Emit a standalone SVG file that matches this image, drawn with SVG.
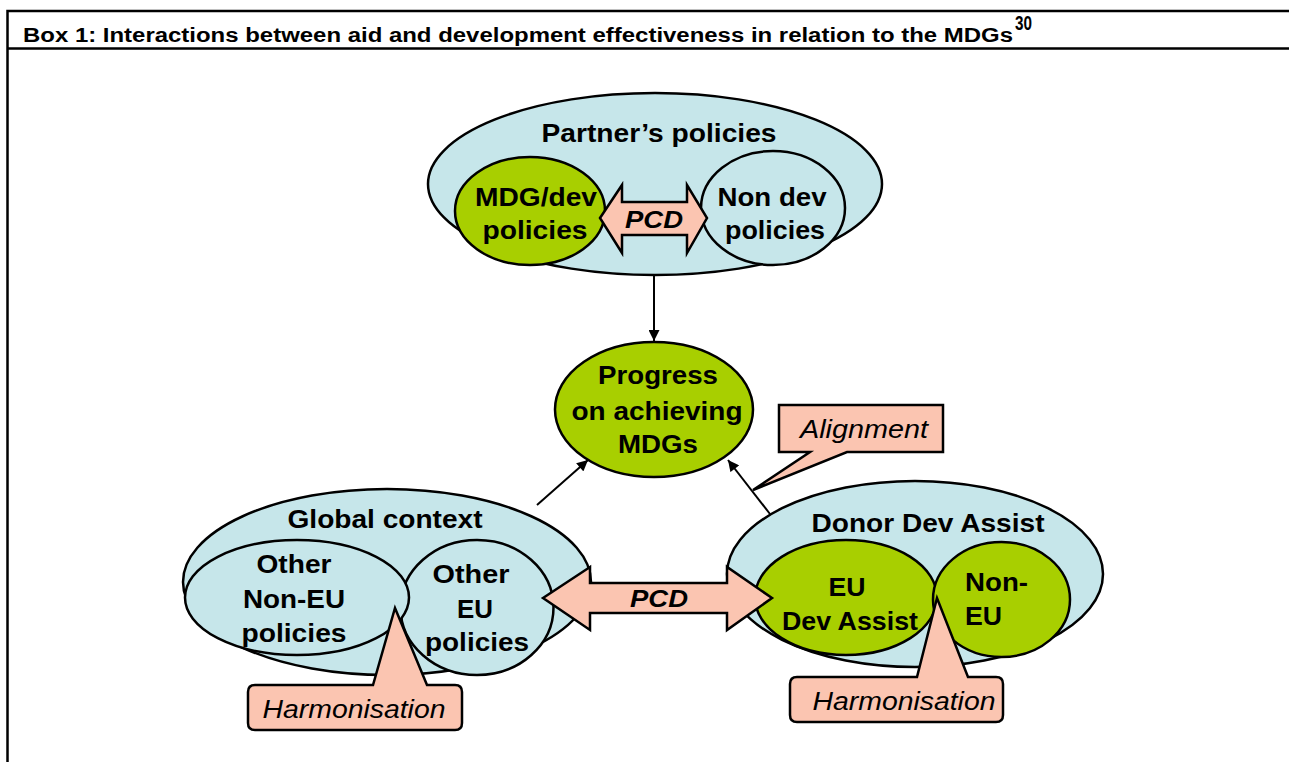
<svg xmlns="http://www.w3.org/2000/svg" width="1289" height="762" viewBox="0 0 1289 762">
<defs>
<style>
.frame{stroke:#000;stroke-width:2.5;fill:none}
.blue{fill:#C6E6EA;stroke:#000;stroke-width:2.5}
.green{fill:#A8CF00;stroke:#000;stroke-width:2.5}
.salmon{fill:#FBC5B1;stroke:#000;stroke-width:2.5;stroke-linejoin:miter}
.lbl{font-family:"Liberation Sans",Arial,sans-serif;font-weight:bold;font-size:25px;fill:#000;text-anchor:middle}
.ital{font-family:"Liberation Sans",Arial,sans-serif;font-style:italic;font-size:25px;fill:#000;text-anchor:middle}
.pcd{font-family:"Liberation Sans",Arial,sans-serif;font-style:italic;font-weight:bold;font-size:23px;fill:#000;text-anchor:middle}
.title{font-family:"Liberation Sans",Arial,sans-serif;font-weight:bold;font-size:20px;fill:#000}
.conn{stroke:#000;stroke-width:2;fill:none}
</style>
<marker id="ah" viewBox="0 0 10 10" refX="10" refY="5" markerWidth="12" markerHeight="11" markerUnits="userSpaceOnUse" orient="auto">
<path d="M0,0 L10,5 L0,10 Z" fill="#000"/>
</marker>
</defs>
<rect width="1289" height="762" fill="#fff"/>
<g id="frame">
<path class="frame" d="M7.5,762 V11 H1289 M7.5,48.5 H1289"/>
<text class="title" x="23" y="42" textLength="990" lengthAdjust="spacingAndGlyphs">Box 1: Interactions between aid and development effectiveness in relation to the MDGs</text>
<text class="title" x="1015" y="30" font-size="13" textLength="17" lengthAdjust="spacingAndGlyphs">30</text>
</g>
<g id="partners-policies">
<ellipse class="blue" cx="655" cy="184" rx="227" ry="91"/>
<text class="lbl" x="659" y="142" textLength="235" lengthAdjust="spacingAndGlyphs">Partner’s policies</text>
</g>
<g id="mdg-dev-policies">
<ellipse class="green" cx="530" cy="211" rx="75" ry="54"/>
<text class="lbl" x="536" y="206" textLength="122" lengthAdjust="spacingAndGlyphs">MDG/dev</text>
<text class="lbl" x="535" y="239" textLength="105" lengthAdjust="spacingAndGlyphs">policies</text>
</g>
<g id="non-dev-policies">
<ellipse class="blue" cx="773" cy="208" rx="72" ry="57"/>
<text class="lbl" x="772" y="206" textLength="109" lengthAdjust="spacingAndGlyphs">Non dev</text>
<text class="lbl" x="775" y="239" textLength="100" lengthAdjust="spacingAndGlyphs">policies</text>
</g>
<g id="pcd-top">
<polygon class="salmon" points="600,218 622,185 622,202 687,202 687,185 707,218 687,253 687,235 622,235 622,253"/>
<text class="pcd" x="654" y="228" textLength="58" lengthAdjust="spacingAndGlyphs">PCD</text>
</g>
<g id="global-context">
<ellipse class="blue" cx="387" cy="582" rx="204" ry="93"/>
<text class="lbl" x="385" y="528" textLength="195" lengthAdjust="spacingAndGlyphs">Global context</text>
</g>
<g id="other-eu-policies">
<ellipse class="blue" cx="477" cy="607.5" rx="76.5" ry="67.5"/>
<text class="lbl" x="471" y="583" textLength="77" lengthAdjust="spacingAndGlyphs">Other</text>
<text class="lbl" x="475" y="618" textLength="36" lengthAdjust="spacingAndGlyphs">EU</text>
<text class="lbl" x="477" y="651" textLength="104" lengthAdjust="spacingAndGlyphs">policies</text>
</g>
<g id="other-non-eu-policies">
<ellipse class="blue" cx="297" cy="597.5" rx="112" ry="57.5"/>
<text class="lbl" x="294" y="573" textLength="75" lengthAdjust="spacingAndGlyphs">Other</text>
<text class="lbl" x="294" y="608" textLength="102" lengthAdjust="spacingAndGlyphs">Non-EU</text>
<text class="lbl" x="294" y="642" textLength="105" lengthAdjust="spacingAndGlyphs">policies</text>
</g>
<g id="donor-dev-assist">
<ellipse class="blue" cx="915" cy="574" rx="188" ry="93"/>
<text class="lbl" x="928" y="532" textLength="233" lengthAdjust="spacingAndGlyphs">Donor Dev Assist</text>
</g>
<g id="eu-dev-assist">
<ellipse class="green" cx="846" cy="597.5" rx="91" ry="57.5"/>
<text class="lbl" x="847" y="596" textLength="37" lengthAdjust="spacingAndGlyphs">EU</text>
<text class="lbl" x="850" y="630" textLength="136" lengthAdjust="spacingAndGlyphs">Dev Assist</text>
</g>
<g id="non-eu">
<ellipse class="green" cx="1001.5" cy="599.5" rx="68.5" ry="57.5"/>
<text class="lbl" x="965" y="591" style="text-anchor:start" textLength="63" lengthAdjust="spacingAndGlyphs">Non-</text>
<text class="lbl" x="965" y="625" style="text-anchor:start" textLength="37" lengthAdjust="spacingAndGlyphs">EU</text>
</g>
<g id="progress">
<ellipse class="green" cx="654" cy="409.5" rx="99" ry="67.5"/>
<text class="lbl" x="658" y="384" textLength="120" lengthAdjust="spacingAndGlyphs">Progress</text>
<text class="lbl" x="657" y="420" textLength="171" lengthAdjust="spacingAndGlyphs">on achieving</text>
<text class="lbl" x="658" y="453" textLength="80" lengthAdjust="spacingAndGlyphs">MDGs</text>
</g>
<g id="connectors">
<line class="conn" x1="654" y1="276" x2="654" y2="341" marker-end="url(#ah)"/>
<line class="conn" x1="537" y1="505" x2="588" y2="460" marker-end="url(#ah)"/>
<line class="conn" x1="770" y1="514" x2="728" y2="460" marker-end="url(#ah)"/>
</g>
<g id="pcd-bottom">
<polygon class="salmon" points="543,598 590,567 590,583 727,583 727,567 772,598 727,630 727,613 590,613 590,630"/>
<text class="pcd" x="659" y="607" textLength="58" lengthAdjust="spacingAndGlyphs">PCD</text>
</g>
<g id="alignment">
<path class="salmon" d="M779,405 H943 V452 H847 L753,490 L810,452 H779 Z"/>
<text class="ital" x="864" y="438" textLength="128" lengthAdjust="spacingAndGlyphs">Alignment</text>
</g>
<g id="harmonisation-left">
<path class="salmon" d="M255,685 H373 L395,608 L427,685 H455 Q462,685 462,692 V723 Q462,730 455,730 H255 Q248,730 248,723 V692 Q248,685 255,685 Z"/>
<text class="ital" x="354" y="718" textLength="183" lengthAdjust="spacingAndGlyphs">Harmonisation</text>
</g>
<g id="harmonisation-right">
<path class="salmon" d="M797,677 H917 L937,598 L968,677 H996 Q1003,677 1003,684 V715 Q1003,722 996,722 H797 Q790,722 790,715 V684 Q790,677 797,677 Z"/>
<text class="ital" x="904" y="710" textLength="183" lengthAdjust="spacingAndGlyphs">Harmonisation</text>
</g>
</svg>
